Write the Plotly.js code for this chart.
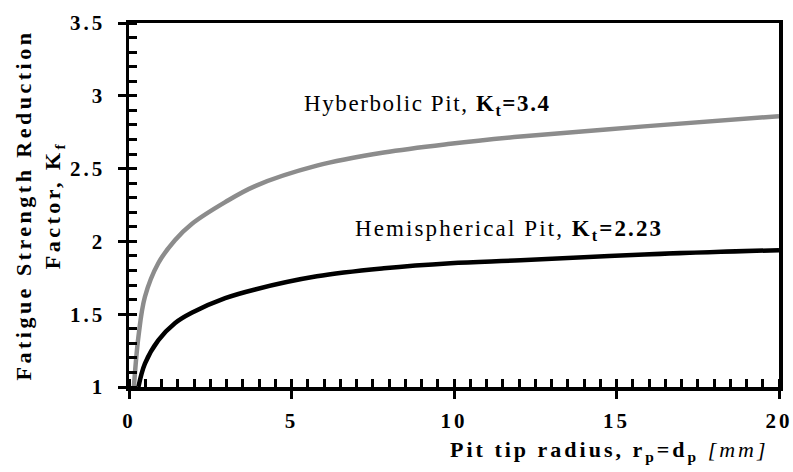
<!DOCTYPE html>
<html>
<head>
<meta charset="utf-8">
<script src="https://cdn.plot.ly/plotly-3.0.1.min.js"></script>
<style>
  html, body { margin: 0; padding: 0; background: #fff; }
  #chart { width: 793px; height: 472px; }
  .xtick text, .ytick text { letter-spacing: 3px; }
</style>
</head>
<body>
<div id="chart"></div>
<script>
// Pit tip radius r_p = d_p [mm]
const hypX = [0.15, 0.29, 0.49, 0.9, 1.42, 1.93, 2.96, 3.88, 5.78, 7.84, 9.89, 12.05, 15.85, 20];
// Fatigue strength reduction factor Kf, hyperbolic pit (Kt = 3.4)
const hypKf = [1.0, 1.345, 1.62, 1.85, 2.01, 2.12, 2.27, 2.38, 2.52, 2.61, 2.67, 2.72, 2.79, 2.86];

const hemX = [0.29, 0.49, 0.9, 1.42, 1.93, 2.96, 3.88, 5.78, 7.84, 9.89, 12.05, 15.85, 20];
// Fatigue strength reduction factor Kf, hemispherical pit (Kt = 2.23)
const hemKf = [1.0, 1.16, 1.32, 1.44, 1.51, 1.61, 1.67, 1.76, 1.815, 1.85, 1.87, 1.91, 1.94];

const seriesNames = ['Hyberbolic Pit, K<sub>t</sub>=3.4', 'Hemispherical Pit, K<sub>t</sub>=2.23'];
const xRange = [0, 20];
const yRange = [1, 3.5];

const FONT = 'Liberation Serif, serif';

const traces = [
  { x: hypX, y: hypKf, mode: 'lines', name: seriesNames[0],
    line: { color: '#8c8c8c', width: 4.5, shape: 'spline', smoothing: 1 } },
  { x: hemX, y: hemKf, mode: 'lines', name: seriesNames[1],
    line: { color: '#000000', width: 4.5, shape: 'spline', smoothing: 1 } }
];

const layout = {
  width: 793, height: 472,
  margin: { l: 129, r: 14, t: 23, b: 85 },
  paper_bgcolor: '#ffffff', plot_bgcolor: '#ffffff',
  showlegend: false,
  font: { family: FONT, color: '#000', size: 20 },
  xaxis: {
    range: xRange, tickmode: 'linear', tick0: 0, dtick: 5,
    showgrid: false, zeroline: false,
    showline: true, linecolor: '#000', linewidth: 3.5, mirror: true,
    ticks: 'outside', ticklen: 8, tickwidth: 3, tickcolor: '#000',
    minor: { tickmode: 'linear', tick0: 0, dtick: 0.5, ticks: 'inside', ticklen: 8, tickwidth: 3, tickcolor: '#000' },
    tickfont: { family: FONT, size: 21, weight: 'bold' },
    ticklabelstandoff: 4
  },
  yaxis: {
    range: yRange, tickmode: 'linear', tick0: 1, dtick: 0.5,
    showgrid: false, zeroline: false,
    showline: true, linecolor: '#000', linewidth: 3.5, mirror: true,
    ticks: 'outside', ticklen: 8, tickwidth: 3, tickcolor: '#000',
    minor: { tickmode: 'linear', tick0: 1, dtick: 0.1, ticks: 'inside', ticklen: 8, tickwidth: 3, tickcolor: '#000' },
    tickfont: { family: FONT, size: 21, weight: 'bold' },
    ticklabelstandoff: 8
  },
  annotations: [
    { xref: 'paper', yref: 'paper', x: -0.1377, y: 0.5, xanchor: 'center', yanchor: 'middle',
      textangle: -90, showarrow: false, align: 'center',
      text: '<span style="letter-spacing:3.5px"><b>Fatigue Strength Reduction<br>Factor, K<sub>f</sub></b></span>',
      font: { family: FONT, size: 22 } },
    { xref: 'paper', yref: 'paper', x: 0.988, y: -0.175, xanchor: 'right', yanchor: 'middle',
      showarrow: false, align: 'right',
      text: '<span style="letter-spacing:3px"><b>Pit tip radius, r<sub>p</sub>=d<sub>p</sub></b> <i>[mm]</i></span>',
      font: { family: FONT, size: 22 } },
    { xref: 'x', yref: 'y', x: 5.33, y: 2.94, xanchor: 'left', yanchor: 'middle',
      showarrow: false,
      text: '<span style="letter-spacing:1.6px">Hyberbolic Pit, <b>K<sub>t</sub>=3.4</b></span>',
      font: { family: FONT, size: 23 } },
    { xref: 'x', yref: 'y', x: 6.9, y: 2.08, xanchor: 'left', yanchor: 'middle',
      showarrow: false,
      text: '<span style="letter-spacing:2.1px">Hemispherical Pit, <b>K<sub>t</sub>=2.23</b></span>',
      font: { family: FONT, size: 23 } }
  ]
};

Plotly.newPlot('chart', traces, layout, { displayModeBar: false, staticPlot: true });
</script>
</body>
</html>
